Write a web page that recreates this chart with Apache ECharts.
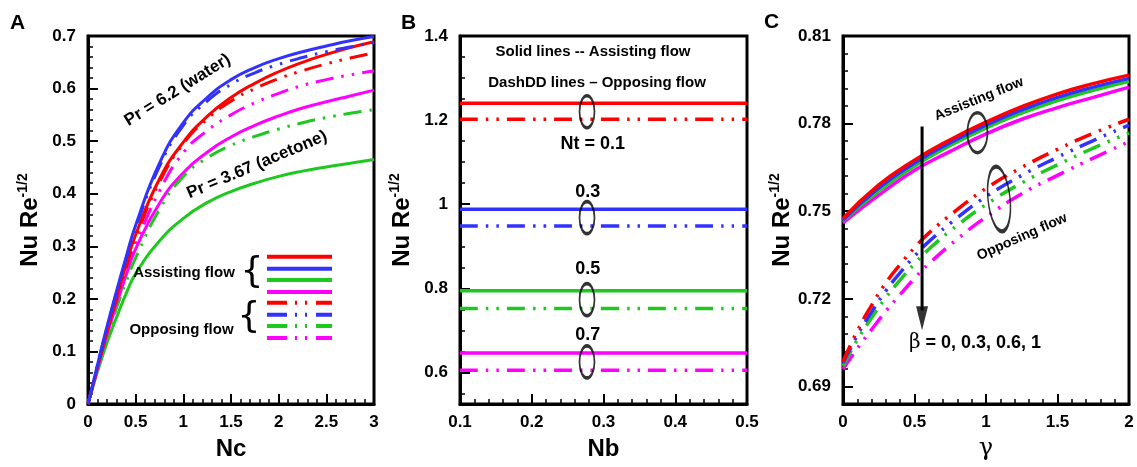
<!DOCTYPE html>
<html><head><meta charset="utf-8">
<script src="https://cdn.jsdelivr.net/npm/echarts@6/dist/echarts.min.js"></script>
<style>html,body{margin:0;padding:0;background:#fff}#c{width:1137px;height:467px}</style>
</head><body><div id="c"></div>
<script>
// ---------- Panel A data (x = Nc) ----------
const ncValues = [0,0.1,0.2,0.3,0.4,0.5,0.75,1,1.25,1.5,1.75,2,2.25,2.5,2.75,3];
const aAssistRed     = [0,0.07,0.138,0.203,0.265,0.322,0.428,0.498,0.547,0.583,0.61,0.632,0.65,0.665,0.678,0.689];
const aAssistBlue    = [0,0.075,0.148,0.215,0.28,0.34,0.458,0.535,0.583,0.617,0.64,0.657,0.67,0.681,0.691,0.699];
const aAssistGreen   = [0,0.062,0.117,0.165,0.21,0.248,0.31,0.353,0.383,0.404,0.42,0.433,0.443,0.451,0.458,0.465];
const aAssistMagenta = [0,0.068,0.132,0.19,0.245,0.295,0.382,0.44,0.479,0.508,0.53,0.548,0.563,0.575,0.586,0.597];
const aOpposeRed     = [0,0.07,0.137,0.2,0.26,0.316,0.422,0.495,0.542,0.576,0.6,0.619,0.634,0.647,0.658,0.668];
const aOpposeBlue    = [0,0.074,0.146,0.212,0.276,0.335,0.452,0.53,0.576,0.608,0.63,0.646,0.659,0.67,0.679,0.687];
const aOpposeGreen   = [0,0.066,0.128,0.183,0.233,0.278,0.37,0.433,0.468,0.492,0.509,0.523,0.535,0.545,0.553,0.56];
const aOpposeMagenta = [0,0.068,0.133,0.193,0.25,0.302,0.405,0.478,0.52,0.55,0.573,0.591,0.606,0.617,0.626,0.634];

// ---------- Panel B data (x = Nb) ----------
const nbValues = [0.1,0.2,0.3,0.4,0.5];
const bAssistRed     = [1.24,1.24,1.24,1.24,1.24];
const bAssistBlue    = [0.988,0.988,0.988,0.988,0.988];
const bAssistGreen   = [0.794,0.794,0.794,0.794,0.794];
const bAssistMagenta = [0.646,0.646,0.646,0.646,0.646];
const bOpposeRed     = [1.202,1.202,1.202,1.202,1.202];
const bOpposeBlue    = [0.948,0.948,0.948,0.948,0.948];
const bOpposeGreen   = [0.752,0.752,0.752,0.752,0.752];
const bOpposeMagenta = [0.605,0.605,0.605,0.605,0.605];
const bEllipseNb = [0.277,0.277,0.277,0.277];
const bEllipseVal = [1.22,0.968,0.773,0.625];
const bLabelTexts = ['Nt = 0.1','0.3','0.5','0.7'];
const bLabelNb = [0.285,0.278,0.278,0.278];
const bLabelVal = [1.143,1.029,0.845,0.69];

// ---------- Panel C data (x = gamma) ----------
const gammaAssist = [0,0.25,0.5,0.75,1,1.25,1.5,1.75,2];
const cAssistRed     = [0.7475,0.759,0.7675,0.7745,0.7805,0.7858,0.7902,0.7937,0.7966];
const cAssistBlue    = [0.747,0.758,0.7665,0.7735,0.7795,0.7847,0.789,0.7925,0.7955];
const cAssistGreen   = [0.7467,0.757,0.7655,0.7725,0.7785,0.7836,0.7879,0.7914,0.7945];
const cAssistMagenta = [0.746,0.7555,0.764,0.7705,0.7765,0.7815,0.7855,0.789,0.7925];
const gammaOppose = [0,0.1,0.2,0.3,0.4,0.5,0.6,0.8,1,1.25,1.5,1.75,2];
const cOpposeRed     = [0.6985,0.709,0.7178,0.7255,0.7318,0.7375,0.7425,0.7506,0.7578,0.765,0.7712,0.7767,0.7815];
const cOpposeBlue    = [0.698,0.7075,0.7155,0.7228,0.729,0.7346,0.7396,0.7478,0.755,0.7623,0.7685,0.7742,0.7795];
const cOpposeGreen   = [0.697,0.706,0.7135,0.7205,0.7265,0.732,0.737,0.7452,0.7523,0.7597,0.7659,0.7716,0.7768];
const cOpposeMagenta = [0.696,0.703,0.7095,0.7158,0.7215,0.727,0.732,0.7405,0.748,0.756,0.7623,0.7682,0.7738];
const cArrowGamma = [0.553,0.553];
const cArrowVal = [0.779,0.716];
const cArrowHead = [0.553,0.7134];

// ---------- tick labels ----------
const bMajorTicks = [0.6,0.8,1,1.2,1.4];
const bMinorTicks = [0.55,0.65,0.7,0.75,0.85,0.9,0.95,1.05,1.1,1.15,1.25,1.3,1.35];
const cMajorTicks = [0.69,0.72,0.75,0.78,0.81];
const cMinorTicks = [0.696,0.702,0.708,0.714,0.726,0.732,0.738,0.744,0.756,0.762,0.768,0.774,0.786,0.792,0.798,0.804];

const RED='#ff0000', BLUE='#3232ff', GREEN='#1ec81e', MAG='#ff00ff';
const FONT='Liberation Sans';
const DASH=[18,8,2.5,8,2.5,8];

function line(x, y, xi, yi, color, dashed, width){
  return {type:'line', xAxisIndex:xi, yAxisIndex:yi, data:x.map((v,i)=>[v,y[i]]),
    smooth:true, symbol:'none', silent:true, animation:false,
    lineStyle:{color:color, width:width, type: dashed?DASH:'solid', cap:'butt'}, z:2};
}
function ellipse(xi, yi, x, y, w, h, rot){
  return {type:'scatter', xAxisIndex:xi, yAxisIndex:yi, data:x.map((v,i)=>[v,y[i]]), symbol:'circle',
    symbolSize:[w,h], symbolRotate:rot||0, silent:true, animation:false, z:6,
    itemStyle:{color:'rgba(0,0,0,0)', borderColor:'#000', borderWidth:2.5}};
}

const labelStyle = {color:'#000', fontFamily:FONT, fontWeight:'bold', fontSize:17};
const yName = {name:'{n|Nu Re}{s|-1/2}', nameLocation:'middle', nameGap:44,
  nameTextStyle:{color:'#000', rich:{n:{fontFamily:FONT,fontWeight:'bold',fontSize:24,color:'#000'}, s:{fontFamily:FONT,fontWeight:'bold',fontSize:14,color:'#000',padding:[0,0,14,0]}}}};

function xAxis(grid, min, max, interval, name, nameStyle){
  return {type:'value', gridIndex:grid, min:min, max:max, interval:interval, position:'bottom',
    name:name, nameLocation:'middle', nameGap:33, nameTextStyle:nameStyle,
    axisLine:{show:true, lineStyle:{color:'#000', width:3}},
    axisTick:{show:true, inside:true, length:10, lineStyle:{color:'#000', width:2}},
    minorTick:{show:true, splitNumber:5, length:5, lineStyle:{color:'#000', width:1.5}},
    axisLabel:Object.assign({margin:10}, labelStyle), splitLine:{show:false}};
}
const xNameBold = {color:'#000', fontFamily:FONT, fontWeight:'bold', fontSize:24};

const option = {
  backgroundColor:'#fff', animation:false,
  grid:[
    {left:88, top:36, width:286, height:368, show:true, borderColor:'#000', borderWidth:3},
    {left:460, top:36, width:287, height:368, show:true, borderColor:'#000', borderWidth:3},
    {left:843, top:36, width:286, height:368, show:true, borderColor:'#000', borderWidth:3}
  ],
  xAxis:[
    xAxis(0,0,3,0.5,'Nc',xNameBold),
    xAxis(1,0.1,0.5,0.1,'Nb',xNameBold),
    xAxis(2,0,2,0.5,'γ',{color:'#000', fontFamily:'DejaVu Serif', fontWeight:'normal', fontSize:24})
  ],
  yAxis:[
    Object.assign({type:'value', gridIndex:0, min:0, max:0.7, interval:0.1, position:'left',
      axisLine:{show:true, lineStyle:{color:'#000', width:3}},
      axisTick:{show:true, inside:true, length:10, lineStyle:{color:'#000', width:2}},
      minorTick:{show:true, splitNumber:5, length:5, lineStyle:{color:'#000', width:1.5}},
      axisLabel:Object.assign({margin:12}, labelStyle), splitLine:{show:false}}, yName),
    Object.assign({type:'value', gridIndex:1, min:0.525, max:1.4, position:'left',
      axisLine:{show:true, lineStyle:{color:'#000', width:3}},
      axisTick:{show:true, inside:true, length:10, customValues:bMajorTicks, lineStyle:{color:'#000', width:2}},
      axisLabel:Object.assign({margin:12, customValues:bMajorTicks}, labelStyle), splitLine:{show:false}}, yName),
    {type:'value', gridIndex:1, min:0.525, max:1.4, position:'left', offset:0,
      axisLine:{show:false}, axisLabel:{show:false}, splitLine:{show:false},
      axisTick:{show:true, inside:true, length:5, customValues:bMinorTicks, lineStyle:{color:'#000', width:1.5}}},
    Object.assign({type:'value', gridIndex:2, min:0.684, max:0.81, position:'left',
      axisLine:{show:true, lineStyle:{color:'#000', width:3}},
      axisTick:{show:true, inside:true, length:10, customValues:cMajorTicks, lineStyle:{color:'#000', width:2}},
      axisLabel:Object.assign({margin:12, customValues:cMajorTicks}, labelStyle), splitLine:{show:false}}, yName),
    {type:'value', gridIndex:2, min:0.684, max:0.81, position:'left', offset:0,
      axisLine:{show:false}, axisLabel:{show:false}, splitLine:{show:false},
      axisTick:{show:true, inside:true, length:5, customValues:cMinorTicks, lineStyle:{color:'#000', width:1.5}}}
  ],
  series:[
    // Panel A
    line(ncValues,aAssistGreen,0,0,GREEN,false,3),
    line(ncValues,aAssistMagenta,0,0,MAG,false,3),
    line(ncValues,aOpposeGreen,0,0,GREEN,true,3),
    line(ncValues,aOpposeMagenta,0,0,MAG,true,3),
    line(ncValues,aOpposeRed,0,0,RED,true,3),
    line(ncValues,aAssistRed,0,0,RED,false,3),
    line(ncValues,aOpposeBlue,0,0,BLUE,true,3),
    line(ncValues,aAssistBlue,0,0,BLUE,false,3),
    // Panel B
    line(nbValues,bAssistRed,1,1,RED,false,3.5),
    line(nbValues,bOpposeRed,1,1,RED,true,3.5),
    line(nbValues,bAssistBlue,1,1,BLUE,false,3.5),
    line(nbValues,bOpposeBlue,1,1,BLUE,true,3.5),
    line(nbValues,bAssistGreen,1,1,GREEN,false,3.5),
    line(nbValues,bOpposeGreen,1,1,GREEN,true,3.5),
    line(nbValues,bAssistMagenta,1,1,MAG,false,3.5),
    line(nbValues,bOpposeMagenta,1,1,MAG,true,3.5),
    ellipse(1,1,bEllipseNb,bEllipseVal,15,32,0),
    // Panel C
    line(gammaAssist,cAssistMagenta,2,3,MAG,false,3.5),
    line(gammaAssist,cAssistGreen,2,3,GREEN,false,3.5),
    line(gammaAssist,cAssistBlue,2,3,BLUE,false,3.5),
    line(gammaAssist,cAssistRed,2,3,RED,false,3.5),
    line(gammaOppose,cOpposeMagenta,2,3,MAG,true,3.5),
    line(gammaOppose,cOpposeGreen,2,3,GREEN,true,3.5),
    line(gammaOppose,cOpposeBlue,2,3,BLUE,true,3.5),
    line(gammaOppose,cOpposeRed,2,3,RED,true,3.5),
    {type:'line', xAxisIndex:2, yAxisIndex:3, data:cArrowGamma.map((v,i)=>[v,cArrowVal[i]]), symbol:'none', silent:true,
      animation:false, z:7, lineStyle:{color:'#000', width:3}},
    {type:'scatter', xAxisIndex:2, yAxisIndex:3, data:[cArrowHead], symbol:'triangle', symbolRotate:180, symbolSize:[12,24],
      silent:true, animation:false, z:7, itemStyle:{color:'#000'}},
    ellipse(2,3,[0.94],[0.7769],20,40,0),
    ellipse(2,3,[1.091],[0.7542],22,65,6)
  ]
};
const chart = echarts.init(document.getElementById('c'), null, {renderer:'canvas'});
chart.setOption(option);

// annotations placed in data coordinates through the axes
const notes = [
  {x:0, y:0, at:[0.94,0.597], text:'Pr = 6.2 (water)', size:17, rot:32},
  {x:0, y:0, at:[1.773,0.455], text:'Pr = 3.67 (acetone)', size:17, rot:23},
  {x:1, y:1, at:[bLabelNb[0],bLabelVal[0]], text:bLabelTexts[0], size:18, rot:0},
  {x:1, y:1, at:[bLabelNb[1],bLabelVal[1]], text:bLabelTexts[1], size:18, rot:0},
  {x:1, y:1, at:[bLabelNb[2],bLabelVal[2]], text:bLabelTexts[2], size:18, rot:0},
  {x:1, y:1, at:[bLabelNb[3],bLabelVal[3]], text:bLabelTexts[3], size:18, rot:0},
  {x:1, y:1, at:[0.2854,1.362], text:'Solid lines -- Assisting flow', size:15, rot:0},
  {x:1, y:1, at:[0.291,1.288], text:'DashDD lines \u2013 Opposing flow', size:15, rot:0},
  {x:2, y:3, at:[0.951,0.7884], text:'Assisting flow', size:14, rot:22},
  {x:2, y:3, at:[1.252,0.7412], text:'Opposing flow', size:14, rot:24},
  {x:2, y:3, at:[0.923,0.7049], text:'{b|\u03b2} = 0, 0.3, 0.6, 1', size:18, rot:0,
    rich:{b:{fontFamily:'DejaVu Serif', fontWeight:'normal', fontSize:20, fill:'#000'}}}
];
const graphics = [
  {type:'text', left:10, top:13, style:{text:'A', fontFamily:FONT, fontWeight:'bold', fontSize:21, fill:'#000'}},
  {type:'text', left:401, top:13, style:{text:'B', fontFamily:FONT, fontWeight:'bold', fontSize:21, fill:'#000'}},
  {type:'text', left:764, top:12, style:{text:'C', fontFamily:FONT, fontWeight:'bold', fontSize:21, fill:'#000'}}
];
notes.forEach(n=>{
  const p = chart.convertToPixel({xAxisIndex:n.x, yAxisIndex:n.y}, n.at);
  graphics.push({type:'text', x:p[0], y:p[1], rotation:n.rot*Math.PI/180, z:10,
    style:{text:n.text, align:'center', verticalAlign:'middle', fontFamily:FONT, fontWeight:'bold',
      fontSize:n.size, fill:'#000', rich:n.rich||{}}});
});
// Panel A legend
const LDASH=[20,8,2,8,2,9];
const legendRows = [[RED,256.7,null],[BLUE,268.7,null],[GREEN,280,null],[MAG,292,null],
  [RED,302.7,LDASH],[BLUE,314.7,LDASH],[GREEN,326,LDASH],[MAG,338,LDASH]];
legendRows.forEach(r=>{
  graphics.push({type:'line', z:10, shape:{x1:267,y1:r[1],x2:332,y2:r[1]}, style:{stroke:r[0], lineWidth:4, lineDash:r[2]}});
});
graphics.push(
  {type:'text', x:184, y:273, z:10, style:{text:'Assisting flow', align:'center', verticalAlign:'middle', fontFamily:FONT, fontWeight:'bold', fontSize:15, fill:'#000'}},
  {type:'text', x:181.5, y:330, z:10, style:{text:'Opposing flow', align:'center', verticalAlign:'middle', fontFamily:FONT, fontWeight:'bold', fontSize:15, fill:'#000'}},
  {type:'text', x:252, y:273, z:10, style:{text:'{', align:'center', verticalAlign:'middle', fontFamily:'DejaVu Sans', fontSize:36, fill:'#000'}},
  {type:'text', x:249, y:318, z:10, style:{text:'{', align:'center', verticalAlign:'middle', fontFamily:'DejaVu Sans', fontSize:36, fill:'#000'}}
);
chart.setOption({graphic:graphics});
</script></body></html>
